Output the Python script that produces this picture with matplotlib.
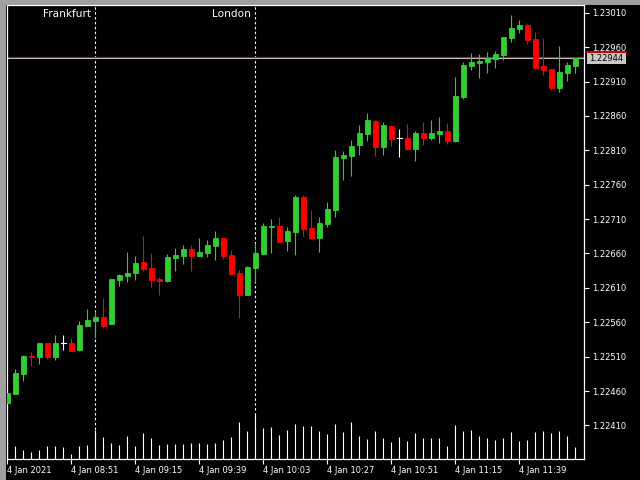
import matplotlib
matplotlib.use("Agg")
import matplotlib.pyplot as plt
from matplotlib.patches import Rectangle
from matplotlib.lines import Line2D
import matplotlib.transforms as mtransforms

# M3 bars, 4 Jan 2021 08:27 .. 11:60
opens = [1.22443, 1.22456, 1.22485, 1.22511, 1.22510, 1.22530, 1.22510, 1.22530, 1.22530, 1.22520,
         1.22554, 1.22562, 1.22568, 1.22558, 1.22621, 1.22627, 1.22632, 1.22648, 1.22639, 1.22623,
         1.22620, 1.22653, 1.22656, 1.22666, 1.22656, 1.22661, 1.22671, 1.22683, 1.22658, 1.22632,
         1.22600, 1.22639, 1.22659, 1.22699, 1.22700, 1.22678, 1.22691, 1.22742, 1.22697, 1.22683,
         1.22703, 1.22723, 1.22799, 1.22802, 1.22818, 1.22834, 1.22853, 1.22815, 1.22845, 1.22828,
         1.22828, 1.22812, 1.22835, 1.22828, 1.22834, 1.22838, 1.22823, 1.22887, 1.22932, 1.22937,
         1.22938, 1.22943, 1.22949, 1.22973, 1.22986, 1.22992, 1.22972, 1.22932, 1.22928, 1.22900,
         1.22922, 1.22932]
highs = [1.22457, 1.22492, 1.22512, 1.22517, 1.22530, 1.22530, 1.22542, 1.22542, 1.22537, 1.22562,
         1.22579, 1.22576, 1.22595, 1.22623, 1.22630, 1.22662, 1.22656, 1.22685, 1.22661, 1.22626,
         1.22659, 1.22668, 1.22672, 1.22672, 1.22683, 1.22680, 1.22693, 1.22683, 1.22665, 1.22636,
         1.22642, 1.22675, 1.22704, 1.22710, 1.22713, 1.22699, 1.22745, 1.22745, 1.22723, 1.22713,
         1.22735, 1.22810, 1.22809, 1.22825, 1.22847, 1.22864, 1.22854, 1.22851, 1.22847, 1.22841,
         1.22848, 1.22838, 1.22851, 1.22854, 1.22858, 1.22850, 1.22917, 1.22938, 1.22951, 1.22950,
         1.22953, 1.22954, 1.22975, 1.23007, 1.22999, 1.22995, 1.22982, 1.22973, 1.22928, 1.22962,
         1.22938, 1.22944]
lows = [1.22443, 1.22456, 1.22475, 1.22496, 1.22500, 1.22507, 1.22505, 1.22520, 1.22518, 1.22518,
        1.22554, 1.22537, 1.22552, 1.22558, 1.22613, 1.22619, 1.22621, 1.22634, 1.22611, 1.22600,
        1.22619, 1.22634, 1.22645, 1.22634, 1.22656, 1.22655, 1.22651, 1.22652, 1.22629, 1.22566,
        1.22600, 1.22619, 1.22659, 1.22661, 1.22675, 1.22664, 1.22658, 1.22685, 1.22683, 1.22662,
        1.22699, 1.22713, 1.22767, 1.22773, 1.22803, 1.22823, 1.22802, 1.22803, 1.22816, 1.22800,
        1.22810, 1.22794, 1.22818, 1.22825, 1.22821, 1.22819, 1.22822, 1.22885, 1.22927, 1.22915,
        1.22922, 1.22930, 1.22941, 1.22967, 1.22980, 1.22965, 1.22930, 1.22919, 1.22897, 1.22895,
        1.22911, 1.22922]
closes = [1.22457, 1.22486, 1.22511, 1.22510, 1.22530, 1.22510, 1.22530, 1.22530, 1.22518, 1.22556,
          1.22563, 1.22568, 1.22554, 1.22623, 1.22629, 1.22632, 1.22646, 1.22637, 1.22621, 1.22620,
          1.22655, 1.22658, 1.22666, 1.22656, 1.22662, 1.22672, 1.22683, 1.22656, 1.22630, 1.22600,
          1.22640, 1.22661, 1.22700, 1.22700, 1.22677, 1.22693, 1.22742, 1.22696, 1.22683, 1.22704,
          1.22725, 1.22800, 1.22803, 1.22816, 1.22835, 1.22854, 1.22815, 1.22847, 1.22826, 1.22828,
          1.22812, 1.22835, 1.22828, 1.22835, 1.22838, 1.22823, 1.22889, 1.22934, 1.22938, 1.22940,
          1.22944, 1.22950, 1.22975, 1.22988, 1.22992, 1.22970, 1.22930, 1.22927, 1.22900, 1.22924,
          1.22934, 1.22944]
volumes = [76, 53, 37, 28, 37, 53, 53, 49, 21, 53,
           57, 117, 89, 65, 57, 93, 53, 105, 85, 57,
           61, 61, 61, 65, 65, 61, 65, 77, 89, 149,
           113, 179, 125, 129, 97, 117, 141, 133, 133, 112,
           101, 141, 109, 149, 93, 81, 113, 85, 69, 89,
           73, 105, 85, 85, 85, 53, 137, 113, 117, 93,
           85, 77, 85, 109, 73, 77, 109, 113, 105, 113,
           93, 49]

time_tick_bars = [0, 8, 16, 24, 32, 40, 48, 56, 64]
time_tick_labels = ["4 Jan 2021", "4 Jan 08:51", "4 Jan 09:15", "4 Jan 09:39", "4 Jan 10:03",
                    "4 Jan 10:27", "4 Jan 10:51", "4 Jan 11:15", "4 Jan 11:39"]
price_ticks = [1.22410, 1.22460, 1.22510, 1.22560, 1.22610, 1.22660, 1.22710,
               1.22760, 1.22810, 1.22860, 1.22910, 1.22960, 1.23010]
session_names = ["Frankfurt", "London"]
session_bars = [11, 31]
bid = 1.22944
ask = 1.229452

GREEN = "#32cd32"
RED = "#ff0000"

fig = plt.figure(figsize=(6.4, 4.8), dpi=100, facecolor="black")
# gray window frame
fig.patches.append(Rectangle((0, 1 - 4.5 / 480), 1, 4.5 / 480, transform=fig.transFigure,
                             facecolor="#a0a0a0", edgecolor="none"))
fig.patches.append(Rectangle((0, 0), 6 / 640, 1, transform=fig.transFigure,
                             facecolor="#a0a0a0", edgecolor="none"))

ax = fig.add_axes([7 / 640, 21 / 480, 577 / 640, 454 / 480])
ax.set_facecolor("black")
ax.set_xlim(-0.04, 72.09)
ax.set_ylim(1.223613, 1.230212)

# volumes in the bottom strip
xv = ax.get_xaxis_transform()
for i, v in enumerate(volumes):
    ax.plot([i, i], [0, v / 1816], color="white", lw=0.8, transform=xv, solid_capstyle="butt")

# session separators
for name, b in zip(session_names, session_bars):
    ax.axvline(b, color="white", lw=0.8, ls=(0, (2.2, 2.2)))
    ax.text(b - 0.56, 0.981, name, transform=ax.get_xaxis_transform(), color="white",
            fontsize=7.6, ha="right", va="center")

# bid / ask lines
ax.axhline(bid, color="#c0c0c0", lw=0.8)
ax.axhline(ask, color=RED, lw=0.8)

# candles
for i in range(len(opens)):
    o, h, l, c = opens[i], highs[i], lows[i], closes[i]
    col = GREEN if c > o else (RED if c < o else "white")
    ax.plot([i, i], [l, h], color=col, lw=0.8, solid_capstyle="butt", zorder=3)
    if c == o:
        ax.plot([i - 0.31, i + 0.31], [o, o], color=col, lw=0.8, zorder=4)
    else:
        ax.bar(i, abs(c - o), bottom=min(o, c), width=0.62, color=col,
               edgecolor=col, lw=0.6, zorder=4)

for sp in ax.spines.values():
    sp.set_color("white")
    sp.set_linewidth(0.9)

ax.yaxis.tick_right()
ax.set_yticks(price_ticks)
ax.set_yticklabels([f"{p:.5f}" for p in price_ticks])
ax.set_xticks(time_tick_bars)
ax.set_xticklabels(time_tick_labels)
for lbl in ax.get_xticklabels():
    lbl.set_ha("left")
ax.tick_params(axis="both", colors="white", direction="out", length=3.5, width=0.8,
               labelsize=6)
ax.tick_params(axis="y", pad=2)
ax.tick_params(axis="x", pad=1.5)

# current price tag on the scale
fig.patches.append(Rectangle((587 / 640, 1 - 64 / 480), 39 / 640, 11.5 / 480,
                             transform=fig.transFigure, facecolor="#c8c8c8", edgecolor="none"))
fig.lines.append(Line2D([587 / 640, 626 / 640], [1 - 52.3 / 480, 1 - 52.3 / 480],
                        transform=fig.transFigure, color=RED, lw=1.2))
fig.text(589 / 640, 1 - 58.5 / 480, f"{bid:.5f}", color="black", fontsize=6, va="center")

fig.savefig("out.png", dpi=100, facecolor="black")
